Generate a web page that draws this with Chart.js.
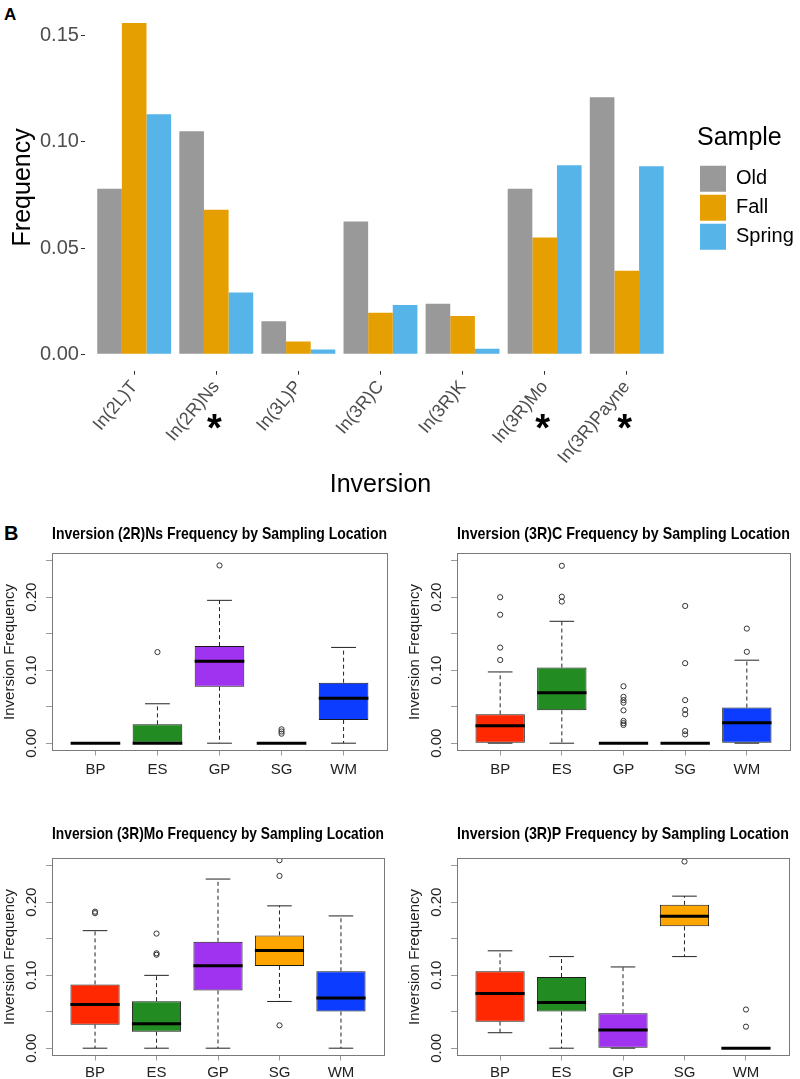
<!DOCTYPE html>
<html>
<head>
<meta charset="utf-8">
<script src="https://cdn.jsdelivr.net/npm/chart.js@4.4.1/dist/chart.umd.min.js"></script>
<style>
html, body { margin: 0; padding: 0; overflow: hidden; background: #fff; }
body { width: 800px; height: 1079px; position: relative; font-family: "Liberation Sans", Arial, sans-serif; }
canvas { position: absolute; }
.tag { position: absolute; font-weight: bold; line-height: 1; }
</style>
</head>
<body>
<div class="tag" style="left:4px;top:6px;font-size:17px">A</div>
<canvas id="chartA" width="800" height="510" style="left:0;top:0"></canvas>
<div class="tag" style="left:4px;top:523px;font-size:20px">B</div>
<canvas id="boxNs" width="400" height="266" style="left:0;top:518px"></canvas>
<canvas id="boxC" width="400" height="266" style="left:400px;top:518px"></canvas>
<canvas id="boxMo" width="400" height="273" style="left:0;top:812px"></canvas>
<canvas id="boxP" width="400" height="273" style="left:400px;top:812px"></canvas>
<script>
// panel A: inversion frequency per sample
const inversions = ['In(2L)T', 'In(2R)Ns', 'In(3L)P', 'In(3R)C', 'In(3R)K', 'In(3R)Mo', 'In(3R)Payne'];
const oldFreq    = [0.078, 0.105, 0.0155, 0.0625, 0.0237, 0.078, 0.121];
const fallFreq   = [0.156, 0.068, 0.006, 0.0195, 0.018, 0.055, 0.0393];
const springFreq = [0.113, 0.029, 0.0022, 0.0232, 0.0025, 0.089, 0.0885];
const starred = [1, 5, 6];
const freqTicks = [0, 0.05, 0.10, 0.15];

// panel B: boxplots by sampling location
const sites = ['BP', 'ES', 'GP', 'SG', 'WM'];
const siteColors = ['#ff2800', '#228b22', '#a033f0', '#ffa500', '#0b3cff'];
const boxTicks = [0, 0.05, 0.10, 0.15, 0.20, 0.25];

const nsLow  = [0, 0, 0, 0, 0];
const nsQ1   = [0, 0, 0.0773, 0, 0.0318];
const nsMed  = [0, 0, 0.1123, 0, 0.0617];
const nsQ3   = [0, 0.0258, 0.133, 0, 0.0829];
const nsHigh = [0, 0.054, 0.1957, 0, 0.1312];
const nsOut  = [[], [0.1248], [0.2435], [0.013, 0.016, 0.019], []];

const cLow  = [0, 0, 0, 0, 0];
const cQ1   = [0, 0.045, 0, 0, 0];
const cMed  = [0.0239, 0.069, 0, 0, 0.028];
const cQ3   = [0.0396, 0.1036, 0, 0, 0.0488];
const cHigh = [0.0976, 0.167, 0, 0, 0.1137];
const cOut  = [[0.114, 0.131, 0.176, 0.2], [0.194, 0.2007, 0.243],
               [0.078, 0.0635, 0.059, 0.0555, 0.045, 0.0305, 0.0275, 0.025],
               [0.188, 0.1096, 0.059, 0.0456, 0.0396, 0.0166, 0.012], [0.1252, 0.157]];

const moLow  = [0, 0, 0, 0.064, 0];
const moQ1   = [0.0322, 0.0226, 0.0791, 0.1127, 0.0502];
const moMed  = [0.0598, 0.0336, 0.1131, 0.1338, 0.0686];
const moQ3   = [0.0874, 0.0644, 0.1458, 0.1545, 0.1054];
const moHigh = [0.161, 0.0998, 0.2317, 0.195, 0.1812];
const moOut  = [[0.187, 0.185], [0.13, 0.128, 0.157], [], [0.0313, 0.236, 0.2575], []];

const pLow  = [0.0212, 0, 0, 0.1255, 0];
const pQ1   = [0.0364, 0.0502, 0, 0.1669, 0];
const pMed  = [0.075, 0.0626, 0.0248, 0.1807, 0];
const pQ3   = [0.1054, 0.0975, 0.0479, 0.1964, 0];
const pHigh = [0.1334, 0.1255, 0.1113, 0.2083, 0];
const pOut  = [[], [], [], [0.2557], [0.053, 0.0295]];

Chart.defaults.font.family = '"Liberation Sans", Arial, sans-serif';
Chart.defaults.animation = false;
Chart.defaults.events = [];
Chart.defaults.plugins.tooltip.enabled = false;

const starPlugin = {
    id: 'stars',
    afterDraw(chart) {
        const x = chart.scales.x, ctx = chart.ctx;
        ctx.save();
        ctx.font = 'bold 38px "Liberation Sans", Arial, sans-serif';
        ctx.fillStyle = '#000';
        ctx.textAlign = 'center';
        ctx.textBaseline = 'middle';
        starred.forEach(i => ctx.fillText('*', x.getPixelForValue(i + 1) - 2, 431));
        ctx.restore();
    }
};

function toPoints(arr) {
    return arr.map((v, i) => ({ x: i + 1, y: v }));
}

new Chart(document.getElementById('chartA'), {
    type: 'bar',
    data: {
        datasets: [
            { label: 'Old', data: toPoints(oldFreq), backgroundColor: '#999999' },
            { label: 'Fall', data: toPoints(fallFreq), backgroundColor: '#e69f00' },
            { label: 'Spring', data: toPoints(springFreq), backgroundColor: '#56b4e9' }
        ]
    },
    options: {
        responsive: false,
        layout: { padding: { left: 5, top: 3, right: 0, bottom: 0 } },
        datasets: { bar: { categoryPercentage: 0.9, barPercentage: 1.0, borderWidth: 0 } },
        scales: {
            x: {
                type: 'linear', min: 0.4, max: 7.6, offset: false,
                afterBuildTicks: s => { s.ticks = inversions.map((n, i) => ({ value: i + 1 })); },
                grid: { offset: false, drawOnChartArea: false, tickLength: 4, color: '#333' },
                border: { display: false },
                ticks: {
                    autoSkip: false, minRotation: 50, maxRotation: 50, padding: 2,
                    font: { size: 18 }, color: '#4d4d4d',
                    callback: (v, i) => inversions[i]
                },
                title: { display: true, text: 'Inversion', color: '#000', font: { size: 25 }, padding: { top: 0, bottom: 10 } }
            },
            y: {
                min: -0.0078, max: 0.165,
                afterBuildTicks: s => { s.ticks = freqTicks.map(v => ({ value: v })); },
                grid: { drawOnChartArea: false, tickLength: 4, color: '#333' },
                border: { display: false },
                ticks: { padding: 2, font: { size: 20, lineHeight: 0.2 }, color: '#4d4d4d', callback: v => v.toFixed(2) },
                title: { display: true, text: 'Frequency', color: '#000', font: { size: 25, lineHeight: 1 }, padding: { top: 6, bottom: 2 } }
            },
            spacer: {
                position: 'right',
                grid: { display: false }, border: { display: false }, ticks: { display: false },
                afterFit: s => { s.width = 21; }
            }
        },
        plugins: {
            legend: {
                position: 'right', fullSize: false, maxWidth: 103,
                title: { display: true, text: 'Sample', position: 'start', color: '#000', font: { size: 25 }, padding: { top: 4, bottom: 7 } },
                labels: { boxWidth: 26, boxHeight: 26, padding: 3, color: '#000', font: { size: 20 } }
            }
        }
    },
    plugins: [starPlugin]
});

const boxParts = {
    id: 'boxParts',
    afterDatasetsDraw(chart, args, o) {
        const { ctx, chartArea: a } = chart;
        const x = chart.scales.x, y = chart.scales.y;
        const bars = chart.getDatasetMeta(0).data;
        const seg = (x1, y1, x2, y2) => { ctx.beginPath(); ctx.moveTo(x1, y1); ctx.lineTo(x2, y2); ctx.stroke(); };
        ctx.save();
        o.med.forEach((m, i) => {
            const cx = x.getPixelForValue(i + 1), w = bars[i].width, cap = w / 4;
            const yLo = y.getPixelForValue(o.lo[i]), yHi = y.getPixelForValue(o.hi[i]);
            ctx.strokeStyle = '#222';
            ctx.lineWidth = 1;
            ctx.setLineDash([4, 3]);
            seg(cx, y.getPixelForValue(o.q3[i]), cx, yHi);
            seg(cx, y.getPixelForValue(o.q1[i]), cx, yLo);
            ctx.setLineDash([]);
            seg(cx - cap, yHi, cx + cap, yHi);
            seg(cx - cap, yLo, cx + cap, yLo);
            ctx.strokeStyle = '#000';
            ctx.lineWidth = 3;
            seg(cx - w / 2, y.getPixelForValue(m), cx + w / 2, y.getPixelForValue(m));
        });
        ctx.strokeStyle = '#7a7a7a';
        ctx.lineWidth = 1;
        ctx.strokeRect(Math.round(a.left) + 0.5, Math.round(a.top) + 0.5, Math.round(a.right - a.left), Math.round(a.bottom - a.top));
        ctx.restore();
    }
};

function boxChart(id, title, lo, q1, med, q3, hi, out, pad) {
    new Chart(document.getElementById(id), {
        type: 'bar',
        data: {
            datasets: [
                {
                    data: sites.map((s, i) => ({ x: i + 1, y: [q1[i], q3[i]] })),
                    backgroundColor: siteColors, borderColor: '#1a1a1a', borderWidth: 1, borderSkipped: false,
                    categoryPercentage: 0.8, barPercentage: 1.0
                },
                {
                    type: 'scatter',
                    data: out.flatMap((arr, i) => arr.map(v => ({ x: i + 1, y: v }))),
                    pointStyle: 'circle', pointRadius: 2.6, pointBorderWidth: 1,
                    pointBorderColor: '#333', pointBackgroundColor: 'rgba(0,0,0,0)'
                }
            ]
        },
        options: {
            responsive: false,
            layout: { padding: pad.layout },
            scales: {
                x: {
                    type: 'linear', min: 0.3, max: 5.7, offset: false,
                    afterBuildTicks: s => { s.ticks = sites.map((n, i) => ({ value: i + 1 })); },
                    grid: { offset: false, drawOnChartArea: false, tickLength: 5, color: '#9a9a9a' },
                    border: { display: false },
                    ticks: {
                        autoSkip: false, maxRotation: 0, padding: pad.xPad,
                        font: { size: 15, lineHeight: 1.1 }, color: '#222',
                        callback: (v, i) => sites[i]
                    }
                },
                y: {
                    min: -0.01, max: 0.26,
                    afterBuildTicks: s => { s.ticks = boxTicks.map(v => ({ value: v })); },
                    grid: { drawOnChartArea: false, tickLength: 6, color: '#9a9a9a' },
                    border: { display: false },
                    ticks: {
                        autoSkip: false, minRotation: 90, maxRotation: 90, crossAlign: 'center', padding: 0,
                        font: { size: 15 }, color: '#222',
                        callback: (v, i) => i % 2 === 0 ? v.toFixed(2) : ''
                    },
                    title: { display: true, text: 'Inversion Frequency', color: '#222', font: { size: 15, lineHeight: 1 }, padding: { top: 0, bottom: 11 } }
                }
            },
            plugins: {
                legend: { display: false },
                title: {
                    display: true, fullSize: false, text: title, color: '#000',
                    font: { size: 17, weight: 'bold', lineHeight: 1.2 }, padding: pad.title
                },
                boxParts: { lo: lo, q1: q1, med: med, q3: q3, hi: hi }
            }
        },
        plugins: [boxParts]
    });
}

boxChart('boxNs', 'Inversion (2R)Ns Frequency by Sampling Location', nsLow, nsQ1, nsMed, nsQ3, nsHigh, nsOut,
    { layout: { left: 2, right: 13, top: 0, bottom: 0 }, title: { top: 6, bottom: 9 }, xPad: 6 });
boxChart('boxC', 'Inversion (3R)C Frequency by Sampling Location', cLow, cQ1, cMed, cQ3, cHigh, cOut,
    { layout: { left: 7, right: 10, top: 0, bottom: 0 }, title: { top: 6, bottom: 9 }, xPad: 6 });
boxChart('boxMo', 'Inversion (3R)Mo Frequency by Sampling Location', moLow, moQ1, moMed, moQ3, moHigh, moOut,
    { layout: { left: 2, right: 16, top: 0, bottom: 0 }, title: { top: 12, bottom: 14 }, xPad: 4 });
boxChart('boxP', 'Inversion (3R)P Frequency by Sampling Location', pLow, pQ1, pMed, pQ3, pHigh, pOut,
    { layout: { left: 7, right: 11, top: 0, bottom: 0 }, title: { top: 12, bottom: 14 }, xPad: 4 });
</script>
</body>
</html>
